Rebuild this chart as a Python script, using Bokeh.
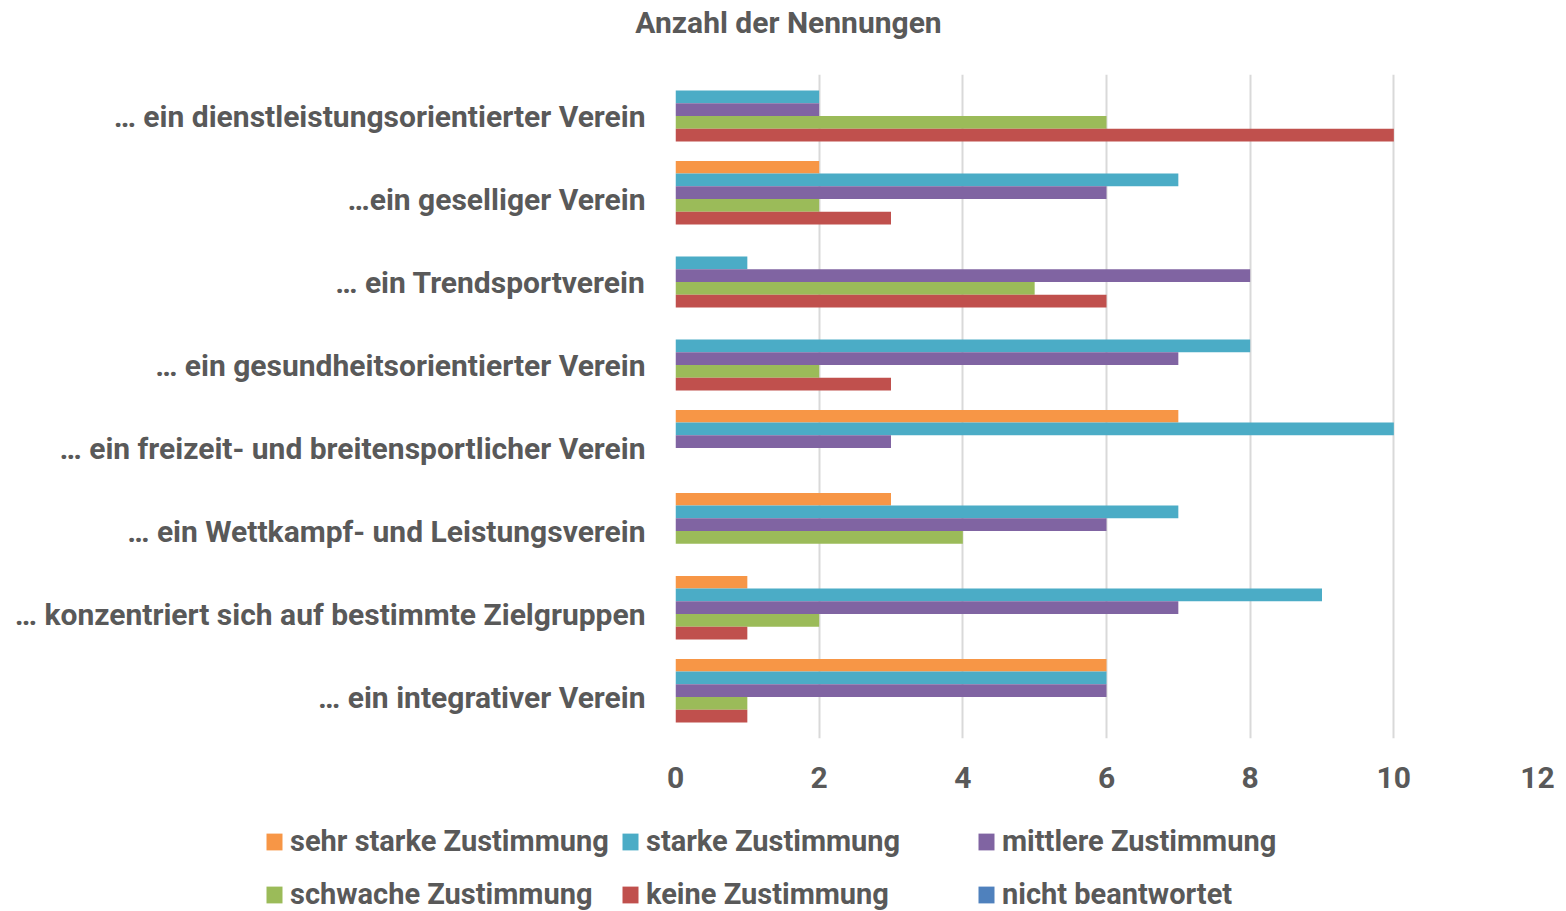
from bokeh.plotting import figure
from bokeh.layouts import column
from bokeh.models import (FactorRange, FixedTicker, Legend, LegendItem, ColumnDataSource,
                          Range1d, Label)
from bokeh.transform import dodge
from bokeh.embed import file_html
from bokeh.resources import INLINE

title_text = "Anzahl der Nennungen"
categories = [
    "… ein dienstleistungsorientierter Verein",
    "…ein geselliger Verein",
    "… ein Trendsportverein",
    "… ein gesundheitsorientierter Verein",
    "… ein freizeit- und breitensportlicher Verein",
    "… ein Wettkampf- und Leistungsverein",
    "… konzentriert sich auf bestimmte Zielgruppen",
    "… ein integrativer Verein",
]
series_names = ["sehr starke Zustimmung", "starke Zustimmung", "mittlere Zustimmung",
                "schwache Zustimmung", "keine Zustimmung", "nicht beantwortet"]
sehr_starke = [0, 2, 0, 0, 7, 3, 1, 6]
starke = [2, 7, 1, 8, 10, 7, 9, 6]
mittlere = [2, 6, 8, 7, 3, 6, 7, 6]
schwache = [6, 2, 5, 2, 0, 4, 2, 1]
keine = [10, 3, 6, 3, 0, 0, 1, 1]
nicht = [0, 0, 0, 0, 0, 0, 0, 0]
x_ticks = [0, 2, 4, 6, 8, 10, 12]

colors = ["#F79646", "#4BACC6", "#8064A2", "#9BBB59", "#C0504D", "#4F81BD"]
TEXT = "#595959"
FONT = "Roboto"
FS = "30px"

data = {"cat": categories}
keys = ["s0", "s1", "s2", "s3", "s4", "s5"]
for k, vals in zip(keys, [sehr_starke, starke, mittlere, schwache, keine, nicht]):
    data[k] = vals
source = ColumnDataSource(data)

W = 1562

# ---- header with the title
p0 = figure(width=W, height=74, output_backend="svg", toolbar_location=None,
            x_range=Range1d(0, 1), y_range=Range1d(0, 1),
            x_axis_type=None, y_axis_type=None, min_border=0)
p0.outline_line_color = None
p0.grid.grid_line_color = None
p0.frame_align = False
p0.add_layout(Label(x=788, y=52, x_units="screen", y_units="screen", text=title_text,
                    text_align="center", text_baseline="middle", text_font=FONT,
                    text_font_style="bold", text_font_size=FS, text_color=TEXT))

# ---- main chart
p = figure(width=W, height=726, output_backend="svg", toolbar_location=None,
           y_range=FactorRange(factors=list(reversed(categories))),
           x_range=Range1d(0, 12),
           min_border_left=675, min_border_right=W - 1537, min_border_top=0, min_border_bottom=62)
p.outline_line_color = None
p.frame_align = False

bar_h = 0.153
offsets = [2.5, 1.5, 0.5, -0.5, -1.5, -2.5]
for k, off, c in zip(keys, offsets, colors):
    p.hbar(y=dodge("cat", off * bar_h, range=p.y_range), right=k, left=0, height=bar_h,
           source=source, fill_color=c, line_color=None)

p.xaxis.ticker = FixedTicker(ticks=x_ticks)
p.xgrid.ticker = FixedTicker(ticks=x_ticks)
p.xgrid.grid_line_color = "#D9D9D9"
p.xgrid.grid_line_width = 2
p.ygrid.grid_line_color = None

for ax in (p.xaxis[0], p.yaxis[0]):
    ax.axis_line_color = None
    ax.major_tick_line_color = None
    ax.minor_tick_line_color = None
    ax.major_tick_out = 0
    ax.major_tick_in = 0
    ax.major_label_text_font = FONT
    ax.major_label_text_font_style = "bold"
    ax.major_label_text_color = TEXT
    ax.major_label_text_font_size = FS
p.xaxis.major_label_standoff = 28
p.yaxis.major_label_standoff = 30

# ---- legend panel below the chart
p2 = figure(width=W, height=111, output_backend="svg", toolbar_location=None,
            x_range=Range1d(0, 1), y_range=Range1d(0, 1),
            x_axis_type=None, y_axis_type=None, min_border=0)
p2.outline_line_color = None
p2.grid.grid_line_color = None
p2.frame_align = False
leg_renderers = []
for k, c in zip(keys, colors):
    # zero-height bars below the visible range: only used as legend swatches
    leg_renderers.append(p2.hbar(y=-5, right=k, left=0, height=0, source=source,
                                 fill_color=c, line_color=None))

cols = [[0, 3], [1, 4], [2, 5]]
xs = [264, 620, 976]
for idx, x in zip(cols, xs):
    leg = Legend(items=[LegendItem(label=series_names[i], renderers=[leg_renderers[i]]) for i in idx],
                 location=(x, 0), orientation="vertical", spacing=19, padding=0, margin=0,
                 border_line_color=None, background_fill_alpha=0,
                 glyph_width=20, glyph_height=21, label_standoff=6, label_height=34,
                 label_text_font=FONT, label_text_font_style="bold",
                 label_text_font_size="29px", label_text_color=TEXT)
    p2.add_layout(leg, "center")

open("out.html", "w").write(file_html(column(p0, p, p2, spacing=0), INLINE))
